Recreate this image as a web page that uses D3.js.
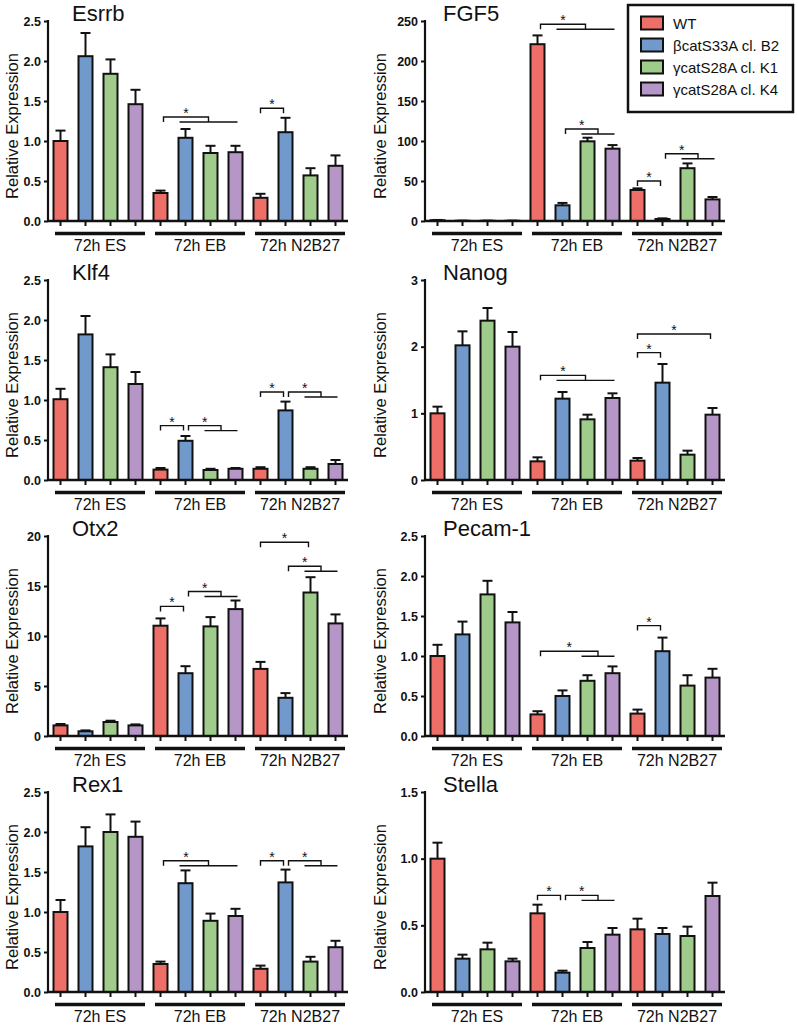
<!DOCTYPE html>
<html>
<head>
<meta charset="utf-8">
<script src="https://cdn.jsdelivr.net/npm/d3@7"></script>
<style>
  html, body { margin: 0; padding: 0; background: #fff; }
  svg { display: block; font-family: "Liberation Sans", Arial, Helvetica, sans-serif; }
</style>
</head>
<body>
<svg id="chart" width="798" height="1027"></svg>
<script>
// ---------- DATA ----------
const groups = ["72h ES", "72h EB", "72h N2B27"];
const series = ["WT", "βcatS33A cl. B2", "γcatS28A cl. K1", "γcatS28A cl. K4"];
const seriesColors = ["#ee6f67", "#7199cb", "#9fcb8b", "#b596c7"];

const genes = ["Esrrb", "FGF5", "Klf4", "Nanog", "Otx2", "Pecam-1", "Rex1", "Stella"];

// means, ordered ES(WT,B2,K1,K4), EB(...), N2B27(...)
const esrrbMean = [1.00, 2.06, 1.84, 1.46, 0.35, 1.04, 0.85, 0.86, 0.29, 1.11, 0.57, 0.69];
const esrrbErr  = [0.13, 0.29, 0.18, 0.18, 0.03, 0.11, 0.09, 0.08, 0.05, 0.18, 0.09, 0.13];
const fgf5Mean  = [1.0, 0.3, 0.3, 0.3, 221, 19.6, 99.6, 90.4, 38.8, 2.5, 66, 27];
const fgf5Err   = [0.3, 0.1, 0.1, 0.1, 11, 3, 4.5, 4.5, 2, 0.8, 6, 3];
const klf4Mean  = [1.01, 1.82, 1.41, 1.20, 0.13, 0.49, 0.125, 0.14, 0.14, 0.87, 0.14, 0.20];
const klf4Err   = [0.13, 0.23, 0.16, 0.15, 0.02, 0.06, 0.015, 0.01, 0.02, 0.11, 0.02, 0.05];
const nanogMean = [1.00, 2.02, 2.39, 2.00, 0.28, 1.22, 0.91, 1.23, 0.29, 1.46, 0.38, 0.98];
const nanogErr  = [0.10, 0.21, 0.19, 0.22, 0.06, 0.10, 0.07, 0.07, 0.04, 0.28, 0.06, 0.10];
const otx2Mean  = [1.06, 0.47, 1.40, 1.06, 11.03, 6.28, 10.96, 12.69, 6.71, 3.82, 14.35, 11.26];
const otx2Err   = [0.14, 0.09, 0.13, 0.10, 0.73, 0.70, 0.93, 0.86, 0.70, 0.47, 1.53, 0.90];
const pecamMean = [1.00, 1.27, 1.77, 1.42, 0.27, 0.50, 0.69, 0.785, 0.28, 1.06, 0.63, 0.73];
const pecamErr  = [0.14, 0.16, 0.17, 0.13, 0.04, 0.07, 0.07, 0.085, 0.05, 0.17, 0.13, 0.11];
const rex1Mean  = [1.00, 1.82, 2.00, 1.94, 0.35, 1.36, 0.89, 0.95, 0.29, 1.37, 0.38, 0.56];
const rex1Err   = [0.15, 0.24, 0.22, 0.19, 0.03, 0.16, 0.09, 0.09, 0.04, 0.16, 0.06, 0.08];
const stellaMean = [1.00, 0.25, 0.32, 0.23, 0.59, 0.145, 0.33, 0.43, 0.47, 0.435, 0.42, 0.72];
const stellaErr  = [0.12, 0.03, 0.05, 0.02, 0.065, 0.015, 0.045, 0.05, 0.08, 0.045, 0.07, 0.10];

// y-axis ticks
const esrrbTicks = [0, 0.5, 1.0, 1.5, 2.0, 2.5];
const fgf5Ticks  = [0, 50, 100, 150, 200, 250];
const klf4Ticks  = [0, 0.5, 1.0, 1.5, 2.0, 2.5];
const nanogTicks = [0, 1, 2, 3];
const otx2Ticks  = [0, 5, 10, 15, 20];
const pecamTicks = [0, 0.5, 1.0, 1.5, 2.0, 2.5];
const rex1Ticks  = [0, 0.5, 1.0, 1.5, 2.0, 2.5];
const stellaTicks = [0, 0.5, 1.0, 1.5];
const tickFormats = [".1f", "d", ".1f", "d", "d", ".1f", ".1f", ".1f"];

// significance brackets: pair (bar a vs bar b) or group (bar a vs bars span[0]..span[1]); y in data units
const esrrbSig = [{kind: "group", a: 4, span: [5, 7], y: 1.30}, {kind: "pair", a: 8, b: 9, y: 1.41}];
const fgf5Sig  = [{kind: "group", a: 4, span: [5, 7], y: 246}, {kind: "group", a: 5, span: [6, 7], y: 115},
                  {kind: "pair", a: 8, b: 9, y: 50}, {kind: "group", a: 9, span: [10, 11], y: 84}];
const klf4Sig  = [{kind: "pair", a: 4, b: 5, y: 0.68}, {kind: "group", a: 5, span: [6, 7], y: 0.68},
                  {kind: "pair", a: 8, b: 9, y: 1.10}, {kind: "group", a: 9, span: [10, 11], y: 1.10}];
const nanogSig = [{kind: "group", a: 4, span: [5, 7], y: 1.57}, {kind: "pair", a: 8, b: 9, y: 1.91},
                  {kind: "pair", a: 8, b: 11, y: 2.19}];
const otx2Sig  = [{kind: "pair", a: 4, b: 5, y: 12.96}, {kind: "group", a: 5, span: [6, 7], y: 14.45},
                  {kind: "pair", a: 8, b: 10, y: 19.37}, {kind: "group", a: 9, span: [10, 11], y: 16.98}];
const pecamSig = [{kind: "group", a: 4, span: [6, 7], y: 1.06}, {kind: "pair", a: 8, b: 9, y: 1.38}];
const rex1Sig  = [{kind: "group", a: 4, span: [5, 7], y: 1.64}, {kind: "pair", a: 8, b: 9, y: 1.64},
                  {kind: "group", a: 9, span: [10, 11], y: 1.64}];
const stellaSig = [{kind: "pair", a: 4, b: 5, y: 0.725}, {kind: "group", a: 5, span: [6, 7], y: 0.725}];

const allMeans = [esrrbMean, fgf5Mean, klf4Mean, nanogMean, otx2Mean, pecamMean, rex1Mean, stellaMean];
const allErrs  = [esrrbErr, fgf5Err, klf4Err, nanogErr, otx2Err, pecamErr, rex1Err, stellaErr];
const allTicks = [esrrbTicks, fgf5Ticks, klf4Ticks, nanogTicks, otx2Ticks, pecamTicks, rex1Ticks, stellaTicks];
const allSig   = [esrrbSig, fgf5Sig, klf4Sig, nanogSig, otx2Sig, pecamSig, rex1Sig, stellaSig];

// ---------- LAYOUT ----------
const colX = [48, 425];
const rowTop = [21, 280, 536, 792];
const plotW = 300, plotH = 200;
const titleDx = [24, 18];
const ylabelX = [12, 380];

const svg = d3.select("#chart");

genes.forEach((gene, gi) => {
  const col = gi % 2, row = Math.floor(gi / 2);
  const x0 = colX[col], top = rowTop[row], bottom = top + plotH;
  const ticks = allTicks[gi];
  const means = allMeans[gi], errs = allErrs[gi];
  const n = means.length;

  const x = d3.scaleBand().domain(d3.range(n)).range([x0, x0 + plotW])
    .paddingInner(0.44).paddingOuter(0.22);
  const cx = i => x(i) + x.bandwidth() / 2;
  const y = d3.scaleLinear().domain([0, d3.max(ticks)]).range([bottom, top]);

  const g = svg.append("g");

  // bars
  g.selectAll("rect.bar").data(means).join("rect")
    .attr("x", (d, i) => x(i))
    .attr("y", d => y(d))
    .attr("width", x.bandwidth())
    .attr("height", d => Math.max(0, y(0) - y(d)))
    .attr("fill", (d, i) => seriesColors[i % 4])
    .attr("stroke", "#111").attr("stroke-width", 2);

  // error bars (upper only)
  const eb = g.append("g").attr("stroke", "#111").attr("stroke-width", 2).attr("fill", "none");
  means.forEach((m, i) => {
    const yt = y(m + errs[i]);
    eb.append("line").attr("x1", cx(i)).attr("x2", cx(i)).attr("y1", y(m)).attr("y2", yt);
    eb.append("line").attr("x1", cx(i) - 5).attr("x2", cx(i) + 5).attr("y1", yt).attr("y2", yt);
  });

  // y axis
  const yAxis = d3.axisLeft(y).tickValues(ticks).tickSize(4).tickPadding(3)
    .tickFormat(d3.format(tickFormats[gi]));
  const ya = g.append("g").attr("transform", `translate(${x0},0)`).call(yAxis);
  ya.select(".domain").remove();
  ya.selectAll(".tick line").attr("stroke", "#111").attr("stroke-width", 2);
  ya.selectAll(".tick text").attr("font-size", 12.5).attr("font-weight", "bold").attr("fill", "#111")
    .attr("font-family", "'Liberation Sans', Arial, sans-serif");
  g.append("line").attr("x1", x0).attr("x2", x0).attr("y1", top - 1).attr("y2", bottom + 1)
    .attr("stroke", "#111").attr("stroke-width", 2.2);

  // x axis with ticks at each bar
  const xAxis = d3.axisBottom(x).tickSize(5).tickFormat("");
  const xa = g.append("g").attr("transform", `translate(0,${bottom})`).call(xAxis);
  xa.select(".domain").remove();
  xa.selectAll(".tick line").attr("stroke", "#111").attr("stroke-width", 2);
  g.append("line").attr("x1", x0).attr("x2", x0 + plotW).attr("y1", bottom).attr("y2", bottom)
    .attr("stroke", "#111").attr("stroke-width", 2.5);

  // group lines + labels
  groups.forEach((lab, k) => {
    const gx1 = x(k * 4) - x.step() * x.paddingOuter() + 7;
    const gx2 = x(k * 4 + 3) + x.bandwidth() + x.step() * x.paddingOuter() - 3;
    g.append("line").attr("x1", gx1).attr("x2", gx2).attr("y1", bottom + 12.5).attr("y2", bottom + 12.5)
      .attr("stroke", "#111").attr("stroke-width", 3.5);
    g.append("text").attr("x", (gx1 + gx2) / 2).attr("y", bottom + 30)
      .attr("text-anchor", "middle").attr("font-size", 16).attr("fill", "#111").text(lab);
  });

  // title
  g.append("text").attr("x", x0 + titleDx[col]).attr("y", top)
    .attr("font-size", 22).attr("fill", "#111").text(gene);

  // y label
  g.append("text")
    .attr("transform", `translate(${ylabelX[col]},${(top + bottom) / 2 + 5}) rotate(-90)`)
    .attr("text-anchor", "middle").attr("dominant-baseline", "central")
    .attr("font-size", 16.5).attr("fill", "#111").text("Relative Expression");

  // significance brackets
  const sg = g.append("g").attr("stroke", "#111").attr("stroke-width", 1.4).attr("fill", "none");
  const drop = 5;
  allSig[gi].forEach(s => {
    const yl = y(s.y);
    let xa1, xa2;
    if (s.kind === "pair") {
      xa1 = cx(s.a); xa2 = cx(s.b) - 2;
      sg.append("path").attr("d", `M${xa1},${yl + drop}V${yl}H${xa2}V${yl + drop}`);
    } else {
      const sx1 = cx(s.span[0]) - 6, sx2 = cx(s.span[1]) + 2;
      xa1 = cx(s.a) + 3; xa2 = (sx1 + sx2) / 2;
      sg.append("path").attr("d", `M${xa1},${yl + drop}V${yl}H${xa2}V${yl + drop}`);
      sg.append("line").attr("x1", sx1).attr("x2", sx2).attr("y1", yl + drop).attr("y2", yl + drop);
    }
    g.append("text").attr("x", (xa1 + xa2) / 2).attr("y", yl + 1)
      .attr("text-anchor", "middle").attr("font-size", 14).attr("fill", "#111").text("*");
  });
});

// ---------- LEGEND ----------
const lg = svg.append("g");
lg.append("rect").attr("x", 628).attr("y", 5).attr("width", 165).attr("height", 107)
  .attr("fill", "#fff").attr("stroke", "#111").attr("stroke-width", 2.5);
series.forEach((s, i) => {
  const yy = 23 + i * 22;
  lg.append("rect").attr("x", 641).attr("y", yy - 6.5).attr("width", 22).attr("height", 13)
    .attr("fill", seriesColors[i]).attr("stroke", "#111").attr("stroke-width", 2);
  lg.append("text").attr("x", 673).attr("y", yy).attr("dominant-baseline", "central")
    .attr("font-size", 15).attr("fill", "#111").text(s);
});
</script>
</body>
</html>
